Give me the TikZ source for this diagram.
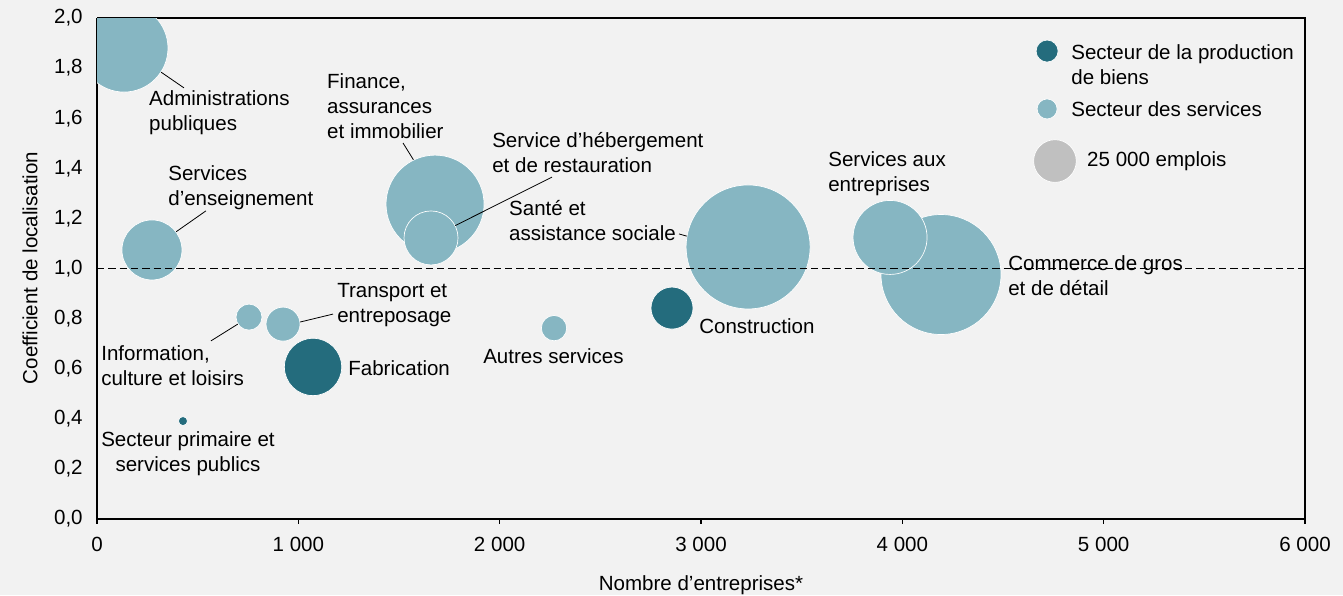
\documentclass[tikz,border=0pt]{standalone}
\usepackage{fontspec}
\setmainfont{Liberation Sans}
\usepackage{tikz}
\usetikzlibrary{positioning}
\definecolor{prodcol}{HTML}{246C7D}
\definecolor{servcol}{HTML}{86B6C2}
\definecolor{legcol}{HTML}{C0C0C0}
\definecolor{bgcol}{HTML}{F2F2F2}

\tikzset{
  bubble/.style={circle, draw=white, line width=0.5pt, inner sep=0pt, minimum size=#1},
  prod/.style={bubble=#1, fill=prodcol},
  serv/.style={bubble=#1, fill=servcol},
  txt/.style={inner sep=0pt, align=left, font=\fontsize{15.4}{18.7}\selectfont},
  leader/.style={black, line width=0.6pt}
}

\begin{document}
\begin{tikzpicture}[x=0.151pt, y=187.875pt]
  \fill[bgcol] (-481.8,-0.3034) rectangle (6188.7,2.0719);
  \useasboundingbox (-481.8,-0.3034) rectangle (6188.7,2.0719);
  % axes and frame
  \draw[line width=1.2pt] (0,2) -- (6000,2) -- (6000,0);
  \draw[line width=1.5pt] (0,0) -- (0,2);
  \draw[line width=1.5pt] (0,0) -- (6000,0);
  \foreach \x/\lab in {0/0,1000/1 000,2000/2 000,3000/3 000,4000/4 000,5000/5 000,6000/6 000} {
    \draw[line width=0.8pt] (\x,0) -- (\x,-0.02);
    \node[txt] (xt\x) at (\x,-0.0998) {\lab};
  }
  \foreach \y/\a/\b in {0/0/0,0.2/0/2,0.4/0/4,0.6/0/6,0.8/0/8,1/1/0,1.2/1/2,1.4/1/4,1.6/1/6,1.8/1/8,2/2/0}
    \node[txt, anchor=east] (yt\a\b) at (-70,\y) {\a,\b};
  \node[txt, rotate=90] (ytitle) at (-333,1.002) {Coefficient de localisation};
  \node[txt] (xtitle) at (3000,-0.263) {Nombre d’entreprises*};

  % bubbles
  \begin{scope}
    \clip (0,0) rectangle (6000,2);
    \node[serv=66pt] (adm) at (134,1.88) {};
    \node[serv=45pt] (ens) at (273,1.074) {};
    \node[serv=73.5pt] (fin) at (1679,1.257) {};
    \node[serv=40.5pt] (heb) at (1659,1.122) {};
    \node[serv=93pt] (sante) at (3234,1.086) {};
    \node[serv=90pt] (com) at (4192,0.976) {};
    \node[serv=55.5pt] (svc) at (3939,1.124) {};
    \node[prod=31.5pt] (cons) at (2856,0.842) {};
    \node[serv=19pt] (aut) at (2270,0.762) {};
    \node[serv=19.5pt] (info) at (755,0.806) {};
    \node[serv=25.5pt] (trans) at (924,0.778) {};
    \node[prod=43pt] (fab) at (1073,0.607) {};
    \node[prod=6.75pt] (prim) at (427,0.391) {};
  \end{scope}
  \draw[dash pattern=on 5.5pt off 3pt, line width=0.6pt] (0,1) -- (6000,1);

  % labels
  \node[txt, anchor=west] (admlab) at (258,1.623) {Administrations\\publiques};
  \node[txt, anchor=west] (enslab) at (353,1.323) {Services\\d’enseignement};
  \node[txt, anchor=west] (finlab) at (1142,1.649) {Finance,\\assurances\\et immobilier};
  \node[txt, anchor=west] (heblab) at (1962,1.463) {Service d’hébergement\\et de restauration};
  \node[txt, anchor=west] (santelab) at (2046,1.192) {Santé et\\assistance sociale};
  \node[txt, anchor=west] (svclab) at (3631,1.377) {Services aux\\entreprises};
  \node[txt, anchor=west] (comlab) at (4525,0.972) {Commerce de gros\\et de détail};
  \node[txt, anchor=west] (conslab) at (2990,0.770) {Construction};
  \node[txt] (autlab) at (2267,0.651) {Autres services};
  \node[txt, anchor=west] (infolab) at (20,0.611) {Information,\\culture et loisirs};
  \node[txt, anchor=west] (translab) at (1192,0.854) {Transport et\\entreposage};
  \node[txt, anchor=west] (fablab) at (1247,0.603) {Fabrication};
  \node[txt, align=center] (primlab) at (452,0.261) {Secteur primaire et\\services publics};

  % leaders
  \coordinate (admtip) at (432,1.721);
  \coordinate (enstip) at (541,1.230);
  \coordinate (fintip) at (1520,1.501);
  \coordinate (hebtip) at (2260,1.365);
  \coordinate (santetip) at (2891,1.138);
  \coordinate (infotip) at (566,0.711);
  \coordinate (transtip) at (1172,0.818);
  \draw[leader] (adm.-33) -- (admtip);
  \draw[leader] (ens.37) -- (enstip);
  \draw[leader] (fin.116) -- (fintip);
  \draw[leader] (heb.27) -- (hebtip);
  \draw[leader] (santetip) -- (sante.170);
  \draw[leader] (info.212) -- (infotip);
  \draw[leader] (trans.7) -- (transtip);

  % legend
  \node[prod=16.5pt] (legprod) at (4719,1.868) {};
  \node[serv=15pt] (legserv) at (4719,1.637) {};
  \node[bubble=32pt, fill=legcol] (legsize) at (4758,1.429) {};
  \node[txt, anchor=west] (legprodlab) at (4838,1.814) {Secteur de la production\\de biens};
  \node[txt, anchor=west] (legservlab) at (4838,1.637) {Secteur des services};
  \node[txt, anchor=west] (legsizelab) at (4917,1.429) {25 000 emplois};
\end{tikzpicture}
\end{document}
